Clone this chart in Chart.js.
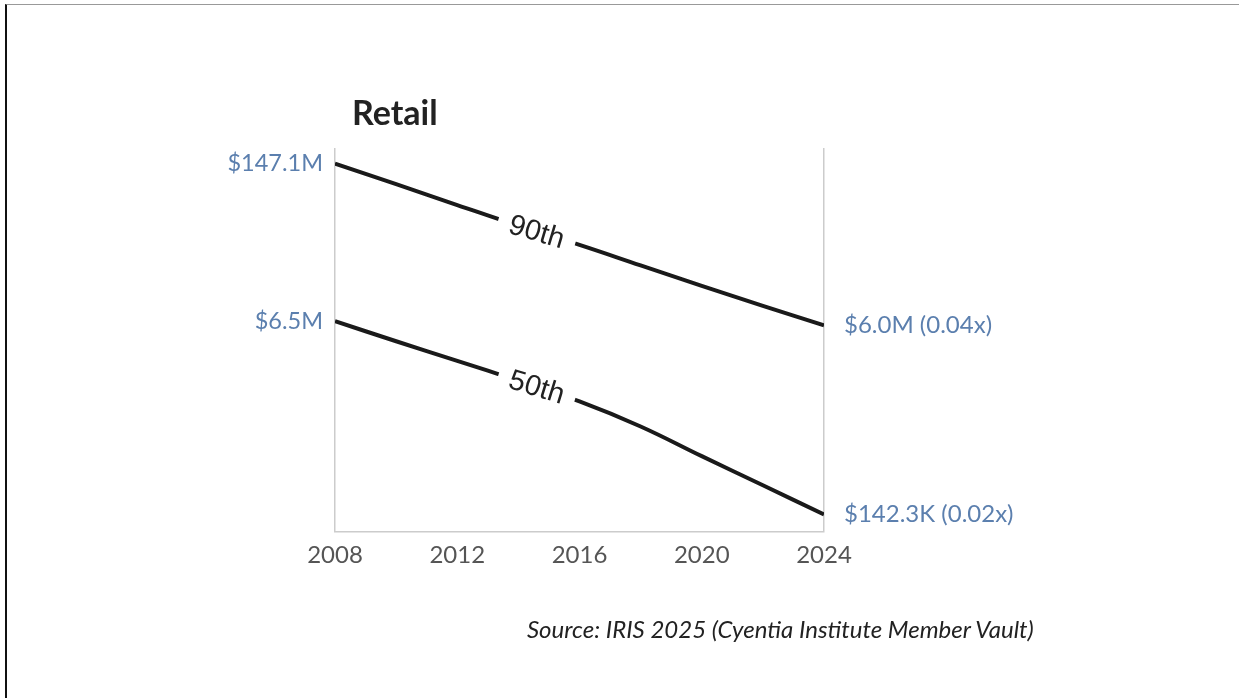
<!DOCTYPE html>
<html>
<head>
<meta charset="utf-8">
<script src="https://cdn.jsdelivr.net/npm/chart.js@4.4.1/dist/chart.umd.min.js"></script>
<style>
  html, body { margin: 0; padding: 0; background: #fff; }
  #wrap { position: relative; width: 1239px; height: 698px; overflow: hidden; }
  #frame { position: absolute; left: 5px; top: 4px; right: 0; bottom: 0;
           border-top: 1px solid #999; border-left: 2px solid #111; }
  #title { position: absolute; left: 352px; top: 92px; font: bold 34px Lato, sans-serif; color: #222; line-height: 40px; }
  #source { position: absolute; left: 527px; top: 615px; font: italic 24px Lato, sans-serif; color: #222; line-height: 28px; }
  canvas { position: absolute; left: 0; top: 0; }
</style>
</head>
<body>
<div id="wrap">
  <div id="frame"></div>
  <canvas id="chart" width="1239" height="698"></canvas>
  <div id="title">Retail</div>
  <div id="source">Source: IRIS 2025 (Cyentia Institute Member Vault)</div>
</div>
<script>
// valores (escala log)
const anos = [2008, 2010, 2012, 2014, 2016, 2018, 2020, 2022, 2024];
const p90 = [147.1e6, 97.7e6, 64.7e6, 43.0e6, 29.4e6, 19.6e6, 13.1e6, 8.8e6, 6.0e6];
const p50 = [6.5e6, 4.37e6, 2.97e6, 2.0e6, 1.33e6, 0.81e6, 0.45e6, 0.253e6, 0.1423e6];
const nomes = ['90th', '50th'];
const xTicks = [2008, 2012, 2016, 2020, 2024];
const anoRotulo = 2014.6;

const azul = '#5b7fae';

function fmt(v) {
  if (v >= 1e6) return '$' + (v / 1e6).toFixed(1) + 'M';
  return '$' + (v / 1e3).toFixed(1) + 'K';
}

// rotulos nas pontas e no meio da linha
const rotulos = {
  id: 'rotulos',
  afterDatasetsDraw(chart) {
    const ctx = chart.ctx;
    const xs = chart.scales.x;
    chart.data.datasets.forEach((ds, i) => {
      const meta = chart.getDatasetMeta(i);
      const pts = meta.data;
      const first = pts[0], last = pts[pts.length - 1];
      const v0 = ds.data[0].y, v1 = ds.data[ds.data.length - 1].y;

      ctx.save();
      ctx.fillStyle = azul;
      ctx.textBaseline = 'middle';
      ctx.font = '23.5px Lato, sans-serif';
      ctx.textAlign = 'right';
      ctx.fillText(fmt(v0), first.x - 12, first.y);
      ctx.font = '24px Lato, sans-serif';
      ctx.textAlign = 'left';
      ctx.fillText(fmt(v1) + ' (' + (v1 / v0).toFixed(2) + 'x)', last.x + 20, last.y);
      ctx.restore();

      // texto inclinado sobre a linha
      const px = xs.getPixelForValue(anoRotulo);
      const a = meta.dataset.interpolate({x: px - 4}, 'x');
      const b = meta.dataset.interpolate({x: px + 4}, 'x');
      const c = meta.dataset.interpolate({x: px}, 'x');
      if (!a || !b || !c) return;
      const ang = Math.atan2(b.y - a.y, b.x - a.x);
      ctx.save();
      ctx.translate(c.x, c.y);
      ctx.rotate(ang);
      ctx.font = '29px "Liberation Sans", Arial, sans-serif';
      const w = ctx.measureText(ds.label).width;
      ctx.fillStyle = '#fff';
      ctx.fillRect(-w / 2 - 12, -9, w + 24, 18);
      ctx.fillStyle = '#222';
      ctx.textAlign = 'center';
      ctx.textBaseline = 'middle';
      ctx.fillText(ds.label, 0, 1);
      ctx.restore();
    });
  }
};

const serie = (vals) => anos.map((a, i) => ({x: a, y: vals[i]}));

new Chart(document.getElementById('chart'), {
  type: 'line',
  data: {
    datasets: [
      { label: nomes[0], data: serie(p90) },
      { label: nomes[1], data: serie(p50) }
    ]
  },
  options: {
    responsive: false,
    animation: false,
    layout: { padding: { left: 335, right: 415, top: 148, bottom: 119 } },
    elements: {
      line: { borderColor: '#1a1a1a', borderWidth: 4, tension: 0.4, borderCapStyle: 'butt' },
      point: { radius: 0 }
    },
    plugins: { legend: { display: false }, tooltip: { enabled: false } },
    scales: {
      x: {
        type: 'linear',
        min: 2008,
        max: 2024,
        afterBuildTicks: (s) => { s.ticks = xTicks.map(v => ({value: v})); },
        ticks: { font: { family: 'Lato', size: 24 }, color: '#555', padding: 9, callback: v => String(v) },
        grid: {
          drawTicks: false,
          color: (c) => (c.tick && (c.tick.value === 2008 || c.tick.value === 2024)) ? '#ccc' : 'rgba(0,0,0,0)',
          lineWidth: 1.5
        },
        border: { display: true, color: '#ccc', width: 1.5 }
      },
      y: {
        type: 'logarithmic',
        min: 1e5,
        max: 2e8,
        display: false
      }
    }
  },
  plugins: [rotulos]
});
</script>
</body>
</html>
